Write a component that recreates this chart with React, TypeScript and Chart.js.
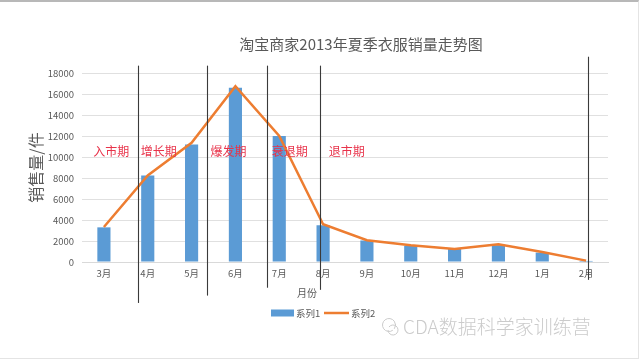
import { useEffect, useRef } from "react";
import { Chart, registerables } from "chart.js";

Chart.register(...registerables);

const months = ["3月", "4月", "5月", "6月", "7月", "8月", "9月", "10月", "11月", "12月", "1月", "2月"];
const series1 = [3300, 8250, 11200, 16600, 12000, 3500, 2050, 1550, 1250, 1600, 900, 100];
const series2 = [3330, 8250, 11350, 16750, 12000, 3600, 2070, 1600, 1250, 1680, 950, 130];
const seriesNames = ["系列1", "系列2"];
const yTicksMax = 18000;
const yTicksStep = 2000;

const phaseNames = ["入市期", "增长期", "爆发期", "衰退期", "退市期"];
const phaseLabelIndex = [0.17, 1.25, 2.84, 4.24, 5.54];
const phaseLabelValue = 10500;
const dividerIndex = [0.78, 2.35, 3.72, 4.93, 11.04];
const dividerTop = [18700, 18700, 18700, 18700, 19550];
const dividerBottom = [-3900, -3200, -2450, -2650, -1700];

const titleText = "淘宝商家2013年夏季衣服销量走势图";
const xTitleText = "月份";
const yTitleText = "销售量/件";
const watermarkText = "CDA数据科学家训练营";

const FONT = "'Noto Sans CJK SC', 'Noto Sans', sans-serif";
const GRAY = "#595959";
const BLUE = "#5b9bd5";
const ORANGE = "#ed7d31";

const decorPlugin = {
  id: "decor",
  afterDatasetsDraw(chart: any) {
    const { ctx, scales, chartArea } = chart;
    const x = scales.x;
    const y = scales.y;
    ctx.save();
    // phase labels
    ctx.fillStyle = "#e8334a";
    ctx.font = `12px ${FONT}`;
    ctx.textAlign = "center";
    ctx.textBaseline = "middle";
    phaseNames.forEach((name, i) => {
      ctx.fillText(name, x.getPixelForValue(phaseLabelIndex[i]), y.getPixelForValue(phaseLabelValue));
    });
    // dividers
    ctx.strokeStyle = "#3a3a3a";
    ctx.lineWidth = 1.1;
    dividerIndex.forEach((v, i) => {
      const px = Math.round(x.getPixelForValue(v)) + 0.5;
      ctx.beginPath();
      ctx.moveTo(px, y.getPixelForValue(dividerTop[i]));
      ctx.lineTo(px, y.getPixelForValue(dividerBottom[i]));
      ctx.stroke();
    });
    // title
    ctx.fillStyle = GRAY;
    ctx.font = `15px ${FONT}`;
    ctx.textAlign = "center";
    ctx.textBaseline = "middle";
    const cx = (chartArea.left + chartArea.right) / 2;
    ctx.fillText(titleText, cx + 16, chartArea.top - 29);
    // x title
    ctx.font = `10px ${FONT}`;
    ctx.fillText(xTitleText, cx - 38, chartArea.bottom + 31);
    // legend
    const ly = chartArea.bottom + 51;
    const lx = cx - 74;
    ctx.font = `9.5px ${FONT}`;
    ctx.textAlign = "left";
    ctx.fillStyle = BLUE;
    ctx.fillRect(lx, ly - 3.5, 23, 7);
    ctx.fillStyle = GRAY;
    ctx.fillText(seriesNames[0], lx + 25, ly);
    ctx.strokeStyle = ORANGE;
    ctx.lineWidth = 2.5;
    ctx.beginPath();
    ctx.moveTo(lx + 53, ly);
    ctx.lineTo(lx + 78, ly);
    ctx.stroke();
    ctx.fillText(seriesNames[1], lx + 80, ly);
    // watermark
    ctx.fillStyle = "#cbcbcb";
    ctx.font = `300 19px ${FONT}`;
    ctx.textAlign = "left";
    ctx.fillText(watermarkText, 403, 327);
    ctx.strokeStyle = "#cbcbcb";
    ctx.lineWidth = 1;
    ctx.beginPath();
    ctx.arc(389, 325, 6.5, 0.3 * Math.PI, 2.2 * Math.PI);
    ctx.stroke();
    ctx.beginPath();
    ctx.arc(393, 330, 5, 1.2 * Math.PI, 3.0 * Math.PI);
    ctx.stroke();
    ctx.restore();
  },
};

export default function App() {
  const ref = useRef<HTMLCanvasElement>(null);
  useEffect(() => {
    const canvas = ref.current;
    if (!canvas) return;
    const chart = new Chart(canvas, {
      type: "bar",
      data: {
        labels: months,
        datasets: [
          {
            type: "line",
            label: seriesNames[1],
            data: series2,
            borderColor: ORANGE,
            backgroundColor: ORANGE,
            borderWidth: 2.5,
            pointRadius: 0,
            tension: 0,
            order: 0,
          } as any,
          {
            type: "bar",
            label: seriesNames[0],
            data: series1,
            backgroundColor: BLUE,
            borderWidth: 0,
            barPercentage: 0.3,
            categoryPercentage: 1,
            order: 1,
          },
        ],
      },
      options: {
        animation: false,
        responsive: false,
        maintainAspectRatio: false,
        layout: { padding: { top: 73, bottom: 55, left: 0, right: 32 } },
        scales: {
          x: {
            grid: { display: false, drawTicks: false },
            border: { display: true, color: "#d9d9d9" },
            ticks: { color: GRAY, font: { size: 9.5, family: FONT }, padding: 6, maxRotation: 0 },
            afterFit: (s: any) => {
              s.height = 44;
            },
          },
          y: {
            min: 0,
            max: yTicksMax,
            grid: { color: "#e0e0e0", drawTicks: false },
            border: { display: false },
            ticks: {
              stepSize: yTicksStep,
              color: GRAY,
              font: { size: 9.5, family: FONT },
              padding: 8,
              callback: (v: any) => String(v),
            },
            title: {
              display: true,
              text: yTitleText,
              color: GRAY,
              font: { size: 16, family: FONT },
              padding: { top: 26, bottom: 0 },
            },
            afterFit: (s: any) => {
              s.width = 82;
            },
          },
        },
        plugins: {
          title: { display: false },
          tooltip: { enabled: false },
          legend: { display: false },
        },
      },
      plugins: [decorPlugin],
    });
    return () => chart.destroy();
  }, []);
  return (
    <div style={{ position: "absolute", left: 0, top: 0, width: 640, height: 361, background: "#fff" }}>
      <canvas ref={ref} width={640} height={361} style={{ display: "block", width: 640, height: 361 }} />
      <div
        style={{
          position: "absolute",
          left: 0,
          top: 0,
          width: 639,
          height: 359,
          boxSizing: "border-box",
          borderTop: "2px solid #b8b8b8",
          borderRight: "1px solid #e4e4e4",
          borderBottom: "1px solid #e4e4e4",
          pointerEvents: "none",
        }}
      />
    </div>
  );
}
